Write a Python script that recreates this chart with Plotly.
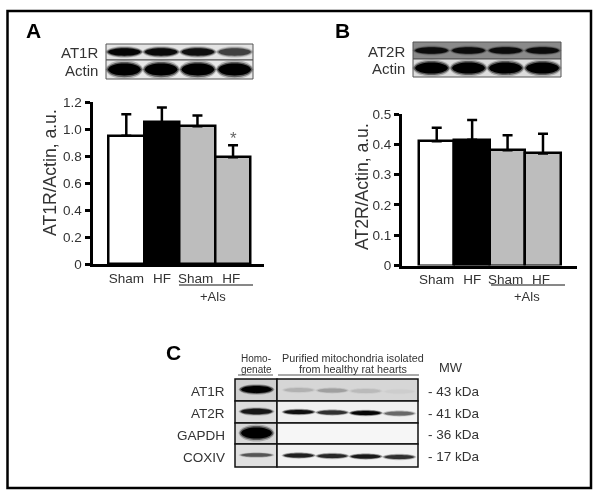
import plotly.graph_objects as go

W, H = 601, 494

# ---- chart data ----
categories = ["Sham", "HF", "Sham ", "HF "]
at1r_values = [0.95, 1.05, 1.02, 0.79]
at1r_errors = [0.16, 0.11, 0.08, 0.09]
at2r_values = [0.41, 0.415, 0.38, 0.37]
at2r_errors = [0.045, 0.065, 0.05, 0.065]
bar_colors = ["#ffffff", "#000000", "#bdbdbd", "#bdbdbd"]
at1r_ticks = [0, 0.2, 0.4, 0.6, 0.8, 1.0, 1.2]
at1r_ticktext = ["0", "0.2", "0.4", "0.6", "0.8", "1.0", "1.2"]
at2r_ticks = [0, 0.1, 0.2, 0.3, 0.4, 0.5]
at2r_ticktext = ["0", "0.1", "0.2", "0.3", "0.4", "0.5"]
kda_labels = ["- 43 kDa", "- 41 kDa", "- 36 kDa", "- 17 kDa"]
c_rows = ["AT1R", "AT2R", "GAPDH", "COXIV"]

# relative band strengths per lane of each blot
blot_a_at1r = [0.95, 0.9, 0.85, 0.55]
blot_a_actin = [1, 1, 1, 1]
blot_b_at2r = [0.85, 0.85, 0.85, 0.85]
blot_b_actin = [1, 1, 1, 1]
c_homog = [1.0, 0.8, 1.0, 0.45]
c_mito = [[0.1, 0.16, 0.08, 0.02],
          [0.85, 0.65, 0.95, 0.4],
          [0, 0, 0, 0],
          [0.75, 0.7, 0.8, 0.65]]

FONT = "Liberation Sans, Arial, sans-serif"
TXT = "#333333"


def px(x):
    return x / W


def py(y):
    return 1 - y / H


fig = go.Figure()
shapes = []
annotations = []


def rect(x0, y0, x1, y1, fill="rgba(0,0,0,0)", line="#000", lw=1.0):
    shapes.append(dict(type="rect", xref="paper", yref="paper", x0=px(x0), x1=px(x1),
                       y0=py(y0), y1=py(y1), fillcolor=fill,
                       line=dict(color=line, width=lw), layer="above"))


def hline(x0, x1, y, color="#000", lw=1.0):
    shapes.append(dict(type="line", xref="paper", yref="paper", x0=px(x0), x1=px(x1),
                       y0=py(y), y1=py(y), line=dict(color=color, width=lw), layer="above"))


def text(x, y, s, size=13, anchor="center", color=TXT, bold=False, angle=0):
    annotations.append(dict(xref="paper", yref="paper", x=px(x), y=py(y), text=f"<b>{s}</b>" if bold else s,
                            showarrow=False, xanchor=anchor, yanchor="middle", textangle=angle,
                            borderpad=0, font=dict(family=FONT, size=size, color=color)))


def lens(x0, x1, yc, h, color, opacity=1.0):
    k = (x1 - x0) * 0.06
    p = (f"M {px(x0):.5f} {py(yc):.5f} "
         f"C {px(x0 + k):.5f} {py(yc - h*0.68):.5f} {px(x1 - k):.5f} {py(yc - h*0.68):.5f} {px(x1):.5f} {py(yc):.5f} "
         f"C {px(x1 - k):.5f} {py(yc + h*0.68):.5f} {px(x0 + k):.5f} {py(yc + h*0.68):.5f} {px(x0):.5f} {py(yc):.5f} Z")
    shapes.append(dict(type="path", xref="paper", yref="paper", path=p, fillcolor=color,
                       opacity=opacity, line=dict(width=0), layer="above"))


def band(x0, x1, yc, h, s):
    if s <= 0:
        return
    lens(x0 - 1.5, x1 + 1.5, yc, h * 1.4, "#555555", 0.35 * s)
    lens(x0 - 0.5, x1 + 0.5, yc, h * 1.15, "#222222", 0.6 * s)
    lens(x0 + 1, x1 - 1, yc, h * 0.9, "#000000", s)


def blot(x0, y0, x1, y1, lanes, bg, h):
    rect(x0, y0, x1, y1, fill=bg, line="#555555", lw=1)
    n = len(lanes)
    lw = (x1 - x0) / n
    for i, s in enumerate(lanes):
        band(x0 + i * lw + 1, x0 + (i + 1) * lw - 1, (y0 + y1) / 2, h, s)


# ---- bar panels ----
def panel(vals, errs, xaxis, yaxis):
    fig.add_trace(go.Bar(x=categories, y=vals, xaxis=xaxis, yaxis=yaxis, width=1.0,
                         marker=dict(color=bar_colors, line=dict(color="#000", width=2.5)),
                         error_y=dict(type="data", symmetric=False, array=errs,
                                      arrayminus=[0] * len(errs), color="#000",
                                      thickness=2.5, width=5),
                         showlegend=False, hoverinfo="skip"))


panel(at1r_values, at1r_errors, "x", "y")
panel(at2r_values, at2r_errors, "x2", "y2")


def xax(x0, x1, rng):
    return dict(domain=[px(x0), px(x1)], range=rng, type="category", categoryorder="array",
                categoryarray=categories, showgrid=False, zeroline=False, showline=True,
                linecolor="#000", linewidth=2.5, ticks="", tickangle=0, automargin=False,
                tickfont=dict(family=FONT, size=13.5, color=TXT))


def yax(y0, y1, rng, vals, txt):
    return dict(domain=[py(y0), py(y1)], range=rng, tickvals=vals, ticktext=txt, showgrid=False,
                zeroline=False, showline=True, linecolor="#000", linewidth=3, ticks="outside",
                ticklen=5, tickwidth=3, tickcolor="#000", automargin=False,
                tickfont=dict(family=FONT, size=13.5, color=TXT))


# ---- panel frame ----
rect(7.5, 11, 591, 488, line="#000", lw=2.5)

# ---- panel A decorations ----
text(33, 31, "A", 21, color="#000", bold=True)
text(99, 52.5, "AT1R", 15, "right")
text(99, 70, "Actin", 15, "right")
blot(106, 44, 253, 60, blot_a_at1r, "#e4e4e4", 8)
blot(106, 60, 253, 79, blot_a_actin, "#e8e8e8", 13)
hline(179, 253, 285, "#111", 1)
text(213, 296, "+Als", 13)
text(233, 138, "*", 17, color="#666666")
text(50, 173, "AT1R/Actin, a.u.", 17.6, angle=-90)

# ---- panel B decorations ----
text(342, 31, "B", 21, color="#000", bold=True)
text(406, 51, "AT2R", 15, "right")
text(406, 68.5, "Actin", 15, "right")
blot(413, 42, 561, 59, blot_b_at2r, "#8a8a8a", 7)
blot(413, 59, 561, 77, blot_b_actin, "#dddddd", 12)
hline(491, 565, 285, "#111", 1)
text(527, 296, "+Als", 13)
text(362, 187, "AT2R/Actin, a.u.", 17.6, angle=-90)

# ---- panel C ----
text(173, 352, "C", 21, color="#000", bold=True)
text(256, 358, "Homo-", 10)
text(256, 369, "genate", 10)
text(353, 358, "Purified mitochondria isolated", 10.8)
text(353, 369, "from healthy rat hearts", 10.8)
text(451, 367, "MW", 13)
hline(238, 273, 375, "#555", 1)
hline(278, 419, 375, "#555", 1)

row_edges = [379, 401, 423, 444, 467]
row_bg_left = ["#cfcfcf", "#dddddd", "#d8d8d8", "#e0e0e0"]
row_bg_right = ["#d6d6d6", "#f0f0f0", "#f6f6f6", "#f2f2f2"]
band_h = [7.5, 6, 12, 4]
for r, name in enumerate(c_rows):
    y0, y1 = row_edges[r], row_edges[r + 1]
    yc = (y0 + y1) / 2
    rect(235, y0, 277, y1, fill=row_bg_left[r], line="#111", lw=1.5)
    rect(277, y0, 418, y1, fill=row_bg_right[r], line="#111", lw=1.5)
    band(240, 273, yc - 0.5, band_h[r], c_homog[r])
    lane = (416 - 282) / 4
    for i, s in enumerate(c_mito[r]):
        band(282 + i * lane + 1, 282 + (i + 1) * lane - 1, yc + i * 0.5, 4.5, s)
    text(226, yc + 1.5, name, 13.5, "right")
    text(427, yc + 1, kda_labels[r], 13.5, "left")

fig.update_layout(
    width=W, height=H, margin=dict(l=0, r=0, t=0, b=0, pad=0, autoexpand=False), autosize=False,
    paper_bgcolor="#ffffff", plot_bgcolor="rgba(0,0,0,0)", bargap=0, showlegend=False,
    xaxis=xax(92.5, 264, [-0.95, 3.87]),
    yaxis=yax(264, 102, [0, 1.2], at1r_ticks, at1r_ticktext),
    xaxis2=xax(402, 577, [-0.98, 3.96]),
    yaxis2=yax(265.5, 114, [0, 0.5], at2r_ticks, at2r_ticktext),
    shapes=shapes, annotations=annotations,
)
fig.layout.xaxis2.anchor = "y2"
fig.layout.yaxis2.anchor = "x2"

fig.write_html("out.html", config=dict(displayModeBar=False),
               post_script="document.body.style.margin='0';"
                           "document.querySelector('.plotly-graph-div').style.filter='blur(0.45px)';")
